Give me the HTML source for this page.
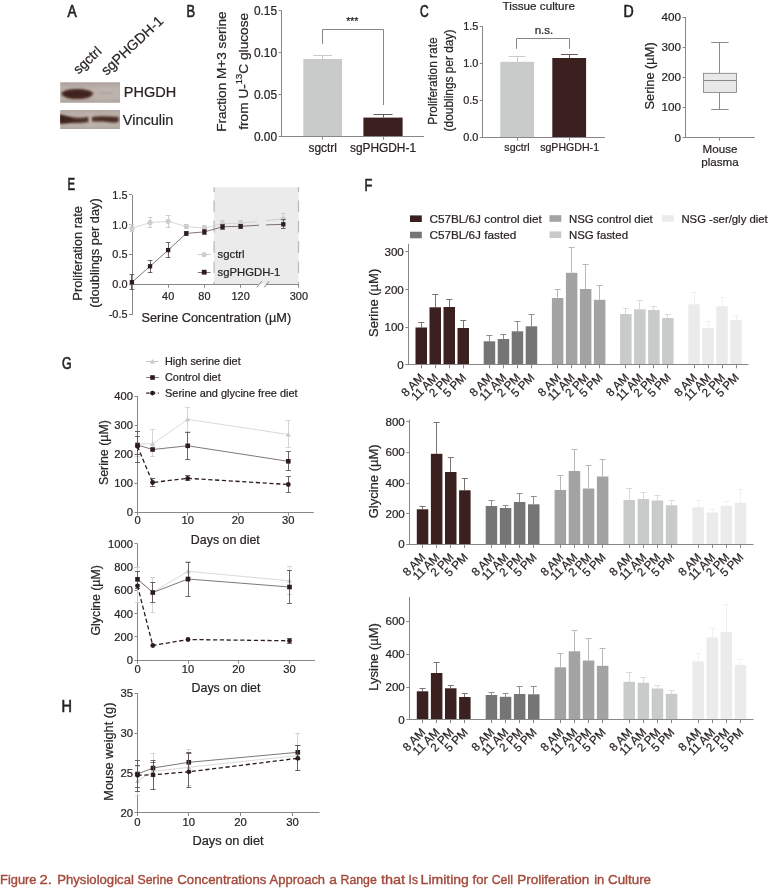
<!DOCTYPE html>
<html lang="en">
<head>
<meta charset="utf-8">
<title>Figure 2. Physiological Serine Concentrations Approach a Range that Is Limiting for Cell Proliferation in Culture</title>
<style>
html,body{margin:0;padding:0;background:#ffffff;}
body{width:768px;height:888px;overflow:hidden;}
svg{display:block;}
svg text{font-family:"Liberation Sans",sans-serif;stroke:#2a2425;stroke-width:0.22px;}
</style>
</head>
<body>
<svg width="768" height="888" viewBox="0 0 768 888">
<defs>
<filter id="b1" x="-30%" y="-80%" width="160%" height="260%"><feGaussianBlur stdDeviation="1.6 1.3"/></filter>
<filter id="b2" x="-30%" y="-80%" width="160%" height="260%"><feGaussianBlur stdDeviation="0.9"/></filter>
<filter id="b4" x="-50%" y="-50%" width="200%" height="200%"><feGaussianBlur stdDeviation="3"/></filter>
<filter id="b3" x="-5%" y="-20%" width="110%" height="140%"><feGaussianBlur stdDeviation="0.5"/></filter>
</defs>
<rect x="0" y="0" width="768" height="888" fill="#ffffff"/>
<text x="0" y="0" font-size="17.2" fill="#231f20" transform="translate(67.4 17.2) scale(0.8000 1)" style="stroke-width:0.62px;vector-effect:non-scaling-stroke">A</text>
<text x="0" y="0" font-size="17.2" fill="#231f20" transform="translate(186.4 17.2) scale(0.7500 1)" style="stroke-width:0.62px;vector-effect:non-scaling-stroke">B</text>
<text x="0" y="0" font-size="16.3" fill="#231f20" transform="translate(419.9 17) scale(0.7350 1)" style="stroke-width:0.62px;vector-effect:non-scaling-stroke">C</text>
<text x="0" y="0" font-size="17.2" fill="#231f20" transform="translate(623.45 17.1) scale(0.8240 1)" style="stroke-width:0.62px;vector-effect:non-scaling-stroke">D</text>
<text x="0" y="0" font-size="17.2" fill="#231f20" transform="translate(67.6 190.3) scale(0.6630 1)" style="stroke-width:0.62px;vector-effect:non-scaling-stroke">E</text>
<text x="0" y="0" font-size="17.2" fill="#231f20" transform="translate(364.6 190.6) scale(0.7440 1)" style="stroke-width:0.62px;vector-effect:non-scaling-stroke">F</text>
<text x="0" y="0" font-size="17.2" fill="#231f20" transform="translate(61.9 369) scale(0.7210 1)" style="stroke-width:0.62px;vector-effect:non-scaling-stroke">G</text>
<text x="0" y="0" font-size="16.5" fill="#231f20" transform="translate(61.4 712.3) scale(0.8800 1)" style="stroke-width:0.62px;vector-effect:non-scaling-stroke">H</text>
<g id="panelA">
<text x="78.5" y="74.8" font-size="13.7" fill="#2a2425" transform="rotate(-43 78.5 74.8)">sgctrl</text>
<text x="106.5" y="76" font-size="14.2" fill="#2a2425" transform="rotate(-43 106.5 76)">sgPHGDH-1</text>
<clipPath id="cb1"><rect x="60.2" y="82.2" width="59.8" height="20.5"/></clipPath>
<clipPath id="cb2"><rect x="60.2" y="110" width="59.8" height="19.1"/></clipPath>
<linearGradient id="bg1" x1="0" y1="0" x2="0" y2="1"><stop offset="0" stop-color="#aca19b"/><stop offset="0.3" stop-color="#bbb0aa"/><stop offset="0.75" stop-color="#bbb1ab"/><stop offset="1" stop-color="#ada29c"/></linearGradient>
<linearGradient id="bg2" x1="0" y1="0" x2="0" y2="1"><stop offset="0" stop-color="#b0a59f"/><stop offset="0.25" stop-color="#bcb1ab"/><stop offset="0.8" stop-color="#bab0aa"/><stop offset="1" stop-color="#aea49e"/></linearGradient>
<g clip-path="url(#cb1)">
<rect x="60" y="82" width="60.2" height="21" fill="url(#bg1)"/>
<ellipse cx="106" cy="93" rx="13" ry="7" fill="#c4bab4" opacity="0.5" filter="url(#b4)"/>
<path d="M60.9,93.5 C63.5,90 69.5,88.9 77.5,88.9 C85.5,88.9 91.3,90.4 93.4,93.6 C91.4,97.6 85.5,99.1 77.2,99.1 C69,99.1 63.8,97.6 60.9,93.5 Z" fill="#4d2e27" filter="url(#b2)"/>
<ellipse cx="77.2" cy="94" rx="13" ry="3.1" fill="#3f241e" filter="url(#b2)"/>
<ellipse cx="105.5" cy="93.1" rx="9" ry="1.2" fill="#a4978f" opacity="0.55" filter="url(#b2)"/>
</g>
<g clip-path="url(#cb2)">
<rect x="60" y="110" width="60.2" height="19.5" fill="url(#bg2)"/>
<ellipse cx="90" cy="120" rx="4" ry="8" fill="#c8beb8" opacity="0.6" filter="url(#b4)"/>
<path d="M58.5,113.8 C62,115.4 70,117.4 78,117.8 C82,117.9 86,117.3 88.3,116.8 L88.4,122.0 C84,123.0 78,123.2 72,123.0 C67,123.0 62,124.2 58.5,123.6 Z" fill="#4b2d26" filter="url(#b2)"/>
<path d="M59,115.2 L72,118.6 L72,121.8 L59,122.6 Z" fill="#3e241e" filter="url(#b1)"/>
<path d="M92.0,116.9 C96,116.1 104,116.0 110,116.4 C114,116.6 117,116.4 118.6,117 L118.8,121.6 C117,123.0 113,122.8 109,122.2 C103,121.6 96,121.8 92.0,121.6 Z" fill="#4d2f28" filter="url(#b2)"/>
</g>
<text x="123.8" y="97.3" font-size="14.5" fill="#2a2425">PHGDH</text>
<text x="122.8" y="124.6" font-size="14.5" fill="#2a2425">Vinculin</text>
</g>
<g id="panelB">
<line x1="281.5" y1="10.4" x2="281.5" y2="136.7" stroke="#878787" stroke-width="1"/>
<line x1="278.6" y1="10.5" x2="281.6" y2="10.5" stroke="#878787" stroke-width="1"/>
<text x="277.1" y="14.68" font-size="11.9" text-anchor="end" fill="#2a2425">0.15</text>
<line x1="278.6" y1="52.5" x2="281.6" y2="52.5" stroke="#878787" stroke-width="1"/>
<text x="277.1" y="56.68" font-size="11.9" text-anchor="end" fill="#2a2425">0.10</text>
<line x1="278.6" y1="94.5" x2="281.6" y2="94.5" stroke="#878787" stroke-width="1"/>
<text x="277.1" y="98.68" font-size="11.9" text-anchor="end" fill="#2a2425">0.05</text>
<line x1="278.6" y1="136.5" x2="281.6" y2="136.5" stroke="#878787" stroke-width="1"/>
<text x="277.1" y="140.58" font-size="11.9" text-anchor="end" fill="#2a2425">0.00</text>
<rect x="303.3" y="59" width="38.8" height="77.3" fill="#c9caca"/>
<line x1="322.5" y1="55" x2="322.5" y2="59" stroke="#c9caca" stroke-width="1"/>
<line x1="313.2" y1="55.5" x2="332.2" y2="55.5" stroke="#c9caca" stroke-width="1"/>
<rect x="363.4" y="117.6" width="39.2" height="18.7" fill="#3a201f"/>
<line x1="383.5" y1="114.6" x2="383.5" y2="117.6" stroke="#6a5a59" stroke-width="1"/>
<line x1="373.5" y1="114.5" x2="392.5" y2="114.5" stroke="#6a5a59" stroke-width="1"/>
<line x1="281.2" y1="136.5" x2="424" y2="136.5" stroke="#878787" stroke-width="1"/>
<line x1="322.5" y1="136.3" x2="322.5" y2="139.7" stroke="#878787" stroke-width="1"/>
<line x1="383.5" y1="136.3" x2="383.5" y2="139.7" stroke="#878787" stroke-width="1"/>
<text x="322.7" y="152" font-size="11.9" text-anchor="middle" fill="#2a2425">sgctrl</text>
<text x="383" y="152" font-size="11.9" text-anchor="middle" fill="#2a2425">sgPHGDH-1</text>
<polyline points="322.5,43.8 322.5,29.5 383.5,29.5 383.5,105" fill="none" stroke="#878787" stroke-width="1"/>
<text x="352.3" y="24.5" font-size="10.5" text-anchor="middle" fill="#2a2425">***</text>
<text x="226" y="71.6" font-size="13.6" text-anchor="middle" fill="#2a2425" transform="rotate(-90 226 71.6)">Fraction M+3 serine</text>
<text x="247.8" y="71.3" font-size="13.7" text-anchor="middle" fill="#2a2425" transform="rotate(-90 247.8 71.3)">from U-<tspan font-size="9.4" dy="-5.4">13</tspan><tspan dy="5.4">C glucose</tspan></text>
</g>
<g id="panelC">
<text x="502.6" y="10.2" font-size="11.7" fill="#2a2425">Tissue culture</text>
<line x1="482.5" y1="26.2" x2="482.5" y2="137.7" stroke="#878787" stroke-width="1"/>
<line x1="479.8" y1="26.5" x2="482.8" y2="26.5" stroke="#878787" stroke-width="1"/>
<text x="478.3" y="30.12" font-size="10.9" text-anchor="end" fill="#2a2425">1.5</text>
<line x1="479.8" y1="63.5" x2="482.8" y2="63.5" stroke="#878787" stroke-width="1"/>
<text x="478.3" y="67.12" font-size="10.9" text-anchor="end" fill="#2a2425">1.0</text>
<line x1="479.8" y1="100.5" x2="482.8" y2="100.5" stroke="#878787" stroke-width="1"/>
<text x="478.3" y="104.22" font-size="10.9" text-anchor="end" fill="#2a2425">0.5</text>
<line x1="479.8" y1="137.5" x2="482.8" y2="137.5" stroke="#878787" stroke-width="1"/>
<text x="478.3" y="141.22" font-size="10.9" text-anchor="end" fill="#2a2425">0.0</text>
<rect x="500.3" y="61.8" width="33.8" height="75.5" fill="#c9caca"/>
<line x1="517.5" y1="56.6" x2="517.5" y2="61.8" stroke="#c9caca" stroke-width="1"/>
<line x1="508.5" y1="56.5" x2="525.5" y2="56.5" stroke="#c9caca" stroke-width="1"/>
<rect x="552.3" y="58" width="33.8" height="79.3" fill="#3a201f"/>
<line x1="569.5" y1="54.6" x2="569.5" y2="58" stroke="#6a5a59" stroke-width="1"/>
<line x1="560.9" y1="54.5" x2="577.9" y2="54.5" stroke="#6a5a59" stroke-width="1"/>
<line x1="482.4" y1="137.5" x2="604.8" y2="137.5" stroke="#878787" stroke-width="1"/>
<line x1="517.5" y1="137.3" x2="517.5" y2="140.7" stroke="#878787" stroke-width="1"/>
<line x1="569.5" y1="137.3" x2="569.5" y2="140.7" stroke="#878787" stroke-width="1"/>
<text x="517" y="151.4" font-size="10.6" text-anchor="middle" fill="#2a2425">sgctrl</text>
<text x="569.6" y="151.4" font-size="10.6" text-anchor="middle" fill="#2a2425">sgPHGDH-1</text>
<polyline points="516.5,48.8 516.5,38.5 569.5,38.5 569.5,48.8" fill="none" stroke="#878787" stroke-width="1"/>
<text x="544" y="34" font-size="11.6" text-anchor="middle" fill="#2a2425">n.s.</text>
<text x="437.3" y="81" font-size="11.9" text-anchor="middle" fill="#2a2425" transform="rotate(-90 437.3 81)">Proliferation rate</text>
<text x="452.6" y="80.5" font-size="11.9" text-anchor="middle" fill="#2a2425" transform="rotate(-90 452.6 80.5)">(doublings per day)</text>
</g>
<g id="panelD">
<line x1="685.5" y1="17" x2="685.5" y2="137.7" stroke="#878787" stroke-width="1"/>
<line x1="682.6" y1="17.5" x2="685.6" y2="17.5" stroke="#878787" stroke-width="1"/>
<text x="681.1" y="21.21" font-size="11.7" text-anchor="end" fill="#2a2425">400</text>
<line x1="682.6" y1="47.5" x2="685.6" y2="47.5" stroke="#878787" stroke-width="1"/>
<text x="681.1" y="51.31" font-size="11.7" text-anchor="end" fill="#2a2425">300</text>
<line x1="682.6" y1="77.5" x2="685.6" y2="77.5" stroke="#878787" stroke-width="1"/>
<text x="681.1" y="81.41" font-size="11.7" text-anchor="end" fill="#2a2425">200</text>
<line x1="682.6" y1="107.5" x2="685.6" y2="107.5" stroke="#878787" stroke-width="1"/>
<text x="681.1" y="111.41" font-size="11.7" text-anchor="end" fill="#2a2425">100</text>
<line x1="682.6" y1="137.5" x2="685.6" y2="137.5" stroke="#878787" stroke-width="1"/>
<text x="681.1" y="141.51" font-size="11.7" text-anchor="end" fill="#2a2425">0</text>
<line x1="685.2" y1="137.5" x2="754.8" y2="137.5" stroke="#878787" stroke-width="1"/>
<line x1="719.5" y1="137.3" x2="719.5" y2="140.7" stroke="#878787" stroke-width="1"/>
<line x1="719.5" y1="42.6" x2="719.5" y2="73.3" stroke="#7d7d7d" stroke-width="0.9"/>
<line x1="719.5" y1="92.5" x2="719.5" y2="109.6" stroke="#7d7d7d" stroke-width="0.9"/>
<line x1="711.2" y1="42.5" x2="728.6" y2="42.5" stroke="#7d7d7d" stroke-width="0.9"/>
<line x1="711.2" y1="109.5" x2="728.6" y2="109.5" stroke="#7d7d7d" stroke-width="0.9"/>
<rect x="703.6" y="73.3" width="32.8" height="19.2" fill="#e8e8e8" stroke="#7d7d7d" stroke-width="0.8"/>
<line x1="703.6" y1="80.5" x2="736.4" y2="80.5" stroke="#7d7d7d" stroke-width="0.9"/>
<text x="654.4" y="75.9" font-size="12.8" text-anchor="middle" fill="#2a2425" transform="rotate(-90 654.4 75.9)">Serine (µM)</text>
<text x="720" y="152.6" font-size="11.6" text-anchor="middle" fill="#2a2425">Mouse</text>
<text x="720" y="165.6" font-size="11.6" text-anchor="middle" fill="#2a2425">plasma</text>
</g>
<g id="panelE">
<rect x="214" y="187.2" width="84.6" height="97.1" fill="#ebebeb"/>
<line x1="214.1" y1="187.2" x2="214.1" y2="284.3" stroke="#bcbcbc" stroke-width="1.3" stroke-dasharray="11.7 8.6" stroke-dashoffset="7"/>
<line x1="298.5" y1="187.2" x2="298.5" y2="284.3" stroke="#bcbcbc" stroke-width="1.3" stroke-dasharray="11.7 8.6" stroke-dashoffset="7"/>
<line x1="132.5" y1="194.9" x2="132.5" y2="314.8" stroke="#878787" stroke-width="1"/>
<line x1="129" y1="194.5" x2="132" y2="194.5" stroke="#878787" stroke-width="1"/>
<text x="127.5" y="198.82" font-size="10.9" text-anchor="end" fill="#2a2425">1.5</text>
<line x1="129" y1="224.5" x2="132" y2="224.5" stroke="#878787" stroke-width="1"/>
<text x="127.5" y="228.52" font-size="10.9" text-anchor="end" fill="#2a2425">1.0</text>
<line x1="129" y1="254.5" x2="132" y2="254.5" stroke="#878787" stroke-width="1"/>
<text x="127.5" y="258.42" font-size="10.9" text-anchor="end" fill="#2a2425">0.5</text>
<line x1="129" y1="284.5" x2="132" y2="284.5" stroke="#878787" stroke-width="1"/>
<text x="127.5" y="288.22" font-size="10.9" text-anchor="end" fill="#2a2425">0.0</text>
<line x1="129" y1="314.5" x2="132" y2="314.5" stroke="#878787" stroke-width="1"/>
<text x="127.5" y="318.32" font-size="10.9" text-anchor="end" fill="#2a2425">-0.5</text>
<line x1="131.6" y1="284.5" x2="258.2" y2="284.5" stroke="#878787" stroke-width="1"/>
<line x1="265.8" y1="284.5" x2="298.9" y2="284.5" stroke="#878787" stroke-width="1"/>
<line x1="256.9" y1="287.3" x2="261.6" y2="281.3" stroke="#878787" stroke-width="1"/>
<line x1="264.3" y1="287.3" x2="269" y2="281.3" stroke="#878787" stroke-width="1"/>
<line x1="131.5" y1="284.3" x2="131.5" y2="289.8" stroke="#878787" stroke-width="1"/>
<line x1="168.5" y1="284.3" x2="168.5" y2="287.7" stroke="#878787" stroke-width="1"/>
<text x="168.15" y="299.9" font-size="10.9" text-anchor="middle" fill="#2a2425">40</text>
<line x1="204.5" y1="284.3" x2="204.5" y2="287.7" stroke="#878787" stroke-width="1"/>
<text x="204.4" y="299.9" font-size="10.9" text-anchor="middle" fill="#2a2425">80</text>
<line x1="240.5" y1="284.3" x2="240.5" y2="287.7" stroke="#878787" stroke-width="1"/>
<text x="240.65" y="299.9" font-size="10.9" text-anchor="middle" fill="#2a2425">120</text>
<line x1="298.5" y1="284.3" x2="298.5" y2="287.7" stroke="#878787" stroke-width="1"/>
<text x="298.9" y="299.9" font-size="10.9" text-anchor="middle" fill="#2a2425">300</text>
<polyline points="131.9,228.3 150.03,222.6 168.15,221.3 186.28,226.5 204.4,228.2 222.53,223.8 240.65,223 257,221.6" fill="none" stroke="#cdcdcd" stroke-width="0.8"/>
<line x1="266" y1="220.6" x2="283.3" y2="218.8" stroke="#cdcdcd" stroke-width="1"/>
<line x1="131.5" y1="224.8" x2="131.5" y2="231.8" stroke="#cdcdcd" stroke-width="1"/>
<line x1="129.6" y1="224.5" x2="134.2" y2="224.5" stroke="#cdcdcd" stroke-width="1"/>
<line x1="129.6" y1="231.5" x2="134.2" y2="231.5" stroke="#cdcdcd" stroke-width="1"/>
<circle cx="131.9" cy="228.3" r="2.6" fill="#cdcdcd"/>
<line x1="150.5" y1="217.8" x2="150.5" y2="227.4" stroke="#cdcdcd" stroke-width="1"/>
<line x1="147.72" y1="217.5" x2="152.33" y2="217.5" stroke="#cdcdcd" stroke-width="1"/>
<line x1="147.72" y1="227.5" x2="152.33" y2="227.5" stroke="#cdcdcd" stroke-width="1"/>
<circle cx="150.03" cy="222.6" r="2.6" fill="#cdcdcd"/>
<line x1="168.5" y1="215.1" x2="168.5" y2="227.5" stroke="#cdcdcd" stroke-width="1"/>
<line x1="165.85" y1="215.5" x2="170.45" y2="215.5" stroke="#cdcdcd" stroke-width="1"/>
<line x1="165.85" y1="227.5" x2="170.45" y2="227.5" stroke="#cdcdcd" stroke-width="1"/>
<circle cx="168.15" cy="221.3" r="2.6" fill="#cdcdcd"/>
<line x1="186.5" y1="224.5" x2="186.5" y2="228.5" stroke="#cdcdcd" stroke-width="1"/>
<line x1="183.97" y1="224.5" x2="188.58" y2="224.5" stroke="#cdcdcd" stroke-width="1"/>
<line x1="183.97" y1="228.5" x2="188.58" y2="228.5" stroke="#cdcdcd" stroke-width="1"/>
<circle cx="186.28" cy="226.5" r="2.6" fill="#cdcdcd"/>
<line x1="204.5" y1="225.2" x2="204.5" y2="231.2" stroke="#cdcdcd" stroke-width="1"/>
<line x1="202.1" y1="225.5" x2="206.7" y2="225.5" stroke="#cdcdcd" stroke-width="1"/>
<line x1="202.1" y1="231.5" x2="206.7" y2="231.5" stroke="#cdcdcd" stroke-width="1"/>
<circle cx="204.4" cy="228.2" r="2.6" fill="#cdcdcd"/>
<line x1="222.5" y1="220.8" x2="222.5" y2="226.8" stroke="#cdcdcd" stroke-width="1"/>
<line x1="220.22" y1="220.5" x2="224.83" y2="220.5" stroke="#cdcdcd" stroke-width="1"/>
<line x1="220.22" y1="226.5" x2="224.83" y2="226.5" stroke="#cdcdcd" stroke-width="1"/>
<circle cx="222.53" cy="223.8" r="2.6" fill="#cdcdcd"/>
<line x1="240.5" y1="220.5" x2="240.5" y2="225.5" stroke="#cdcdcd" stroke-width="1"/>
<line x1="238.35" y1="220.5" x2="242.95" y2="220.5" stroke="#cdcdcd" stroke-width="1"/>
<line x1="238.35" y1="225.5" x2="242.95" y2="225.5" stroke="#cdcdcd" stroke-width="1"/>
<circle cx="240.65" cy="223" r="2.6" fill="#cdcdcd"/>
<line x1="283.5" y1="213.8" x2="283.5" y2="223.8" stroke="#cdcdcd" stroke-width="1"/>
<line x1="281" y1="213.5" x2="285.6" y2="213.5" stroke="#cdcdcd" stroke-width="1"/>
<line x1="281" y1="223.5" x2="285.6" y2="223.5" stroke="#cdcdcd" stroke-width="1"/>
<circle cx="283.3" cy="218.8" r="2.6" fill="#cdcdcd"/>
<polyline points="131.9,282.2 150.03,266.3 168.15,250.1 186.28,233.4 204.4,231.9 222.53,226.8 240.65,226.3 259,225.2" fill="none" stroke="#5e5454" stroke-width="0.8"/>
<line x1="266" y1="224.9" x2="283.3" y2="224.3" stroke="#5e5454" stroke-width="0.8"/>
<line x1="131.5" y1="274.9" x2="131.5" y2="289.5" stroke="#5e5454" stroke-width="0.9"/>
<line x1="129.6" y1="274.5" x2="134.2" y2="274.5" stroke="#5e5454" stroke-width="0.9"/>
<line x1="129.6" y1="289.5" x2="134.2" y2="289.5" stroke="#5e5454" stroke-width="0.9"/>
<rect x="129.75" y="280.05" width="4.3" height="4.3" fill="#2c1d1c"/>
<line x1="150.5" y1="260.1" x2="150.5" y2="272.5" stroke="#5e5454" stroke-width="0.9"/>
<line x1="147.72" y1="260.5" x2="152.33" y2="260.5" stroke="#5e5454" stroke-width="0.9"/>
<line x1="147.72" y1="272.5" x2="152.33" y2="272.5" stroke="#5e5454" stroke-width="0.9"/>
<rect x="147.88" y="264.15" width="4.3" height="4.3" fill="#2c1d1c"/>
<line x1="168.5" y1="242.7" x2="168.5" y2="257.5" stroke="#5e5454" stroke-width="0.9"/>
<line x1="165.85" y1="242.5" x2="170.45" y2="242.5" stroke="#5e5454" stroke-width="0.9"/>
<line x1="165.85" y1="257.5" x2="170.45" y2="257.5" stroke="#5e5454" stroke-width="0.9"/>
<rect x="166" y="247.95" width="4.3" height="4.3" fill="#2c1d1c"/>
<line x1="186.5" y1="231.4" x2="186.5" y2="235.4" stroke="#5e5454" stroke-width="0.9"/>
<line x1="183.97" y1="231.5" x2="188.58" y2="231.5" stroke="#5e5454" stroke-width="0.9"/>
<line x1="183.97" y1="235.5" x2="188.58" y2="235.5" stroke="#5e5454" stroke-width="0.9"/>
<rect x="184.12" y="231.25" width="4.3" height="4.3" fill="#2c1d1c"/>
<line x1="204.5" y1="229.7" x2="204.5" y2="234.1" stroke="#5e5454" stroke-width="0.9"/>
<line x1="202.1" y1="229.5" x2="206.7" y2="229.5" stroke="#5e5454" stroke-width="0.9"/>
<line x1="202.1" y1="234.5" x2="206.7" y2="234.5" stroke="#5e5454" stroke-width="0.9"/>
<rect x="202.25" y="229.75" width="4.3" height="4.3" fill="#2c1d1c"/>
<line x1="222.5" y1="224.6" x2="222.5" y2="229" stroke="#5e5454" stroke-width="0.9"/>
<line x1="220.22" y1="224.5" x2="224.83" y2="224.5" stroke="#5e5454" stroke-width="0.9"/>
<line x1="220.22" y1="229.5" x2="224.83" y2="229.5" stroke="#5e5454" stroke-width="0.9"/>
<rect x="220.38" y="224.65" width="4.3" height="4.3" fill="#2c1d1c"/>
<line x1="240.5" y1="224.1" x2="240.5" y2="228.5" stroke="#5e5454" stroke-width="0.9"/>
<line x1="238.35" y1="224.5" x2="242.95" y2="224.5" stroke="#5e5454" stroke-width="0.9"/>
<line x1="238.35" y1="228.5" x2="242.95" y2="228.5" stroke="#5e5454" stroke-width="0.9"/>
<rect x="238.5" y="224.15" width="4.3" height="4.3" fill="#2c1d1c"/>
<line x1="283.5" y1="219.7" x2="283.5" y2="228.9" stroke="#5e5454" stroke-width="0.9"/>
<line x1="281" y1="219.5" x2="285.6" y2="219.5" stroke="#5e5454" stroke-width="0.9"/>
<line x1="281" y1="228.5" x2="285.6" y2="228.5" stroke="#5e5454" stroke-width="0.9"/>
<rect x="281.15" y="222.15" width="4.3" height="4.3" fill="#2c1d1c"/>
<line x1="197.8" y1="254.5" x2="210.6" y2="254.5" stroke="#cdcdcd" stroke-width="1"/>
<circle cx="204.2" cy="254.6" r="2.6" fill="#cdcdcd"/>
<text x="217.6" y="258.3" font-size="11.3" fill="#2a2425">sgctrl</text>
<line x1="197.8" y1="272.5" x2="210.6" y2="272.5" stroke="#5e5454" stroke-width="0.8"/>
<rect x="201.8" y="269.8" width="4.8" height="4.8" fill="#2c1d1c"/>
<text x="217.6" y="276.3" font-size="11.3" fill="#2a2425">sgPHGDH-1</text>
<text x="216.3" y="321.8" font-size="12.75" text-anchor="middle" fill="#2a2425">Serine Concentration (µM)</text>
<text x="82.3" y="253.4" font-size="12.9" text-anchor="middle" fill="#2a2425" transform="rotate(-90 82.3 253.4)">Proliferation rate</text>
<text x="98.6" y="253" font-size="12.8" text-anchor="middle" fill="#2a2425" transform="rotate(-90 98.6 253)">(doublings per day)</text>
</g>
<g id="panelF">
<rect x="410" y="215.4" width="11.8" height="6.6" fill="#3a201f"/>
<text x="429.4" y="222.7" font-size="11.75" fill="#2a2425">C57BL/6J control diet</text>
<rect x="410" y="231.7" width="11.8" height="6.6" fill="#757575"/>
<text x="429.4" y="239" font-size="11.75" fill="#2a2425">C57BL/6J fasted</text>
<rect x="549.5" y="215.2" width="11.8" height="6.6" fill="#a3a3a3"/>
<text x="568.9" y="222.5" font-size="11.45" fill="#2a2425">NSG control diet</text>
<rect x="549.5" y="231.4" width="11.8" height="6.6" fill="#c9caca"/>
<text x="568.9" y="238.7" font-size="11.45" fill="#2a2425">NSG fasted</text>
<rect x="662" y="215.2" width="11.8" height="6.6" fill="#ebebeb"/>
<text x="681.4" y="222.5" font-size="11.35" fill="#2a2425">NSG -ser/gly diet</text>
<line x1="421.5" y1="322" x2="421.5" y2="327.5" stroke="#7c7274" stroke-width="1"/>
<line x1="418.25" y1="322.5" x2="424.25" y2="322.5" stroke="#7c7274" stroke-width="1"/>
<rect x="415.5" y="327.5" width="11.5" height="37.2" fill="#3a201f"/>
<line x1="435.5" y1="294.3" x2="435.5" y2="307.3" stroke="#7c7274" stroke-width="1"/>
<line x1="432.25" y1="294.5" x2="438.25" y2="294.5" stroke="#7c7274" stroke-width="1"/>
<rect x="429.5" y="307.3" width="11.5" height="57.4" fill="#3a201f"/>
<line x1="449.5" y1="299.3" x2="449.5" y2="307" stroke="#7c7274" stroke-width="1"/>
<line x1="446.25" y1="299.5" x2="452.25" y2="299.5" stroke="#7c7274" stroke-width="1"/>
<rect x="443.5" y="307" width="11.5" height="57.7" fill="#3a201f"/>
<line x1="463.5" y1="320.3" x2="463.5" y2="328" stroke="#7c7274" stroke-width="1"/>
<line x1="460.25" y1="320.5" x2="466.25" y2="320.5" stroke="#7c7274" stroke-width="1"/>
<rect x="457.5" y="328" width="11.5" height="36.7" fill="#3a201f"/>
<line x1="489.5" y1="335.3" x2="489.5" y2="341.3" stroke="#8f8f8f" stroke-width="1"/>
<line x1="486.45" y1="335.5" x2="492.45" y2="335.5" stroke="#8f8f8f" stroke-width="1"/>
<rect x="483.7" y="341.3" width="11.5" height="23.4" fill="#757575"/>
<line x1="503.5" y1="334.3" x2="503.5" y2="339" stroke="#8f8f8f" stroke-width="1"/>
<line x1="500.45" y1="334.5" x2="506.45" y2="334.5" stroke="#8f8f8f" stroke-width="1"/>
<rect x="497.7" y="339" width="11.5" height="25.7" fill="#757575"/>
<line x1="517.5" y1="321.5" x2="517.5" y2="331.3" stroke="#8f8f8f" stroke-width="1"/>
<line x1="514.45" y1="321.5" x2="520.45" y2="321.5" stroke="#8f8f8f" stroke-width="1"/>
<rect x="511.7" y="331.3" width="11.5" height="33.4" fill="#757575"/>
<line x1="531.5" y1="314.5" x2="531.5" y2="326.3" stroke="#8f8f8f" stroke-width="1"/>
<line x1="528.45" y1="314.5" x2="534.45" y2="314.5" stroke="#8f8f8f" stroke-width="1"/>
<rect x="525.7" y="326.3" width="11.5" height="38.4" fill="#757575"/>
<line x1="557.5" y1="289.3" x2="557.5" y2="298" stroke="#b8b8b8" stroke-width="1"/>
<line x1="554.65" y1="289.5" x2="560.65" y2="289.5" stroke="#b8b8b8" stroke-width="1"/>
<rect x="551.9" y="298" width="11.5" height="66.7" fill="#a3a3a3"/>
<line x1="571.5" y1="247.3" x2="571.5" y2="272.8" stroke="#b8b8b8" stroke-width="1"/>
<line x1="568.65" y1="247.5" x2="574.65" y2="247.5" stroke="#b8b8b8" stroke-width="1"/>
<rect x="565.9" y="272.8" width="11.5" height="91.9" fill="#a3a3a3"/>
<line x1="585.5" y1="264.3" x2="585.5" y2="289" stroke="#b8b8b8" stroke-width="1"/>
<line x1="582.65" y1="264.5" x2="588.65" y2="264.5" stroke="#b8b8b8" stroke-width="1"/>
<rect x="579.9" y="289" width="11.5" height="75.7" fill="#a3a3a3"/>
<line x1="599.5" y1="285.5" x2="599.5" y2="299.8" stroke="#b8b8b8" stroke-width="1"/>
<line x1="596.65" y1="285.5" x2="602.65" y2="285.5" stroke="#b8b8b8" stroke-width="1"/>
<rect x="593.9" y="299.8" width="11.5" height="64.9" fill="#a3a3a3"/>
<line x1="625.5" y1="308.3" x2="625.5" y2="314" stroke="#dbdbdb" stroke-width="1"/>
<line x1="622.85" y1="308.5" x2="628.85" y2="308.5" stroke="#dbdbdb" stroke-width="1"/>
<rect x="620.1" y="314" width="11.5" height="50.7" fill="#c9caca"/>
<line x1="639.5" y1="300" x2="639.5" y2="309.3" stroke="#dbdbdb" stroke-width="1"/>
<line x1="636.85" y1="300.5" x2="642.85" y2="300.5" stroke="#dbdbdb" stroke-width="1"/>
<rect x="634.1" y="309.3" width="11.5" height="55.4" fill="#c9caca"/>
<line x1="653.5" y1="306" x2="653.5" y2="310" stroke="#dbdbdb" stroke-width="1"/>
<line x1="650.85" y1="306.5" x2="656.85" y2="306.5" stroke="#dbdbdb" stroke-width="1"/>
<rect x="648.1" y="310" width="11.5" height="54.7" fill="#c9caca"/>
<line x1="667.5" y1="314.3" x2="667.5" y2="318" stroke="#dbdbdb" stroke-width="1"/>
<line x1="664.85" y1="314.5" x2="670.85" y2="314.5" stroke="#dbdbdb" stroke-width="1"/>
<rect x="662.1" y="318" width="11.5" height="46.7" fill="#c9caca"/>
<line x1="694.5" y1="292.5" x2="694.5" y2="304.3" stroke="#f1f1f1" stroke-width="1"/>
<line x1="691.05" y1="292.5" x2="697.05" y2="292.5" stroke="#f1f1f1" stroke-width="1"/>
<rect x="688.3" y="304.3" width="11.5" height="60.4" fill="#ebebeb"/>
<line x1="708.5" y1="321.8" x2="708.5" y2="328" stroke="#f1f1f1" stroke-width="1"/>
<line x1="705.05" y1="321.5" x2="711.05" y2="321.5" stroke="#f1f1f1" stroke-width="1"/>
<rect x="702.3" y="328" width="11.5" height="36.7" fill="#ebebeb"/>
<line x1="722.5" y1="297.5" x2="722.5" y2="306.3" stroke="#f1f1f1" stroke-width="1"/>
<line x1="719.05" y1="297.5" x2="725.05" y2="297.5" stroke="#f1f1f1" stroke-width="1"/>
<rect x="716.3" y="306.3" width="11.5" height="58.4" fill="#ebebeb"/>
<line x1="736.5" y1="315.8" x2="736.5" y2="320" stroke="#f1f1f1" stroke-width="1"/>
<line x1="733.05" y1="315.5" x2="739.05" y2="315.5" stroke="#f1f1f1" stroke-width="1"/>
<rect x="730.3" y="320" width="11.5" height="44.7" fill="#ebebeb"/>
<line x1="408.5" y1="243.8" x2="408.5" y2="365.1" stroke="#878787" stroke-width="1"/>
<line x1="405.3" y1="251.5" x2="408.3" y2="251.5" stroke="#878787" stroke-width="1"/>
<text x="403.8" y="255.68" font-size="11.6" text-anchor="end" fill="#2a2425">300</text>
<line x1="405.3" y1="289.5" x2="408.3" y2="289.5" stroke="#878787" stroke-width="1"/>
<text x="403.8" y="293.58" font-size="11.6" text-anchor="end" fill="#2a2425">200</text>
<line x1="405.3" y1="327.5" x2="408.3" y2="327.5" stroke="#878787" stroke-width="1"/>
<text x="403.8" y="331.38" font-size="11.6" text-anchor="end" fill="#2a2425">100</text>
<line x1="405.3" y1="364.5" x2="408.3" y2="364.5" stroke="#878787" stroke-width="1"/>
<text x="403.8" y="368.88" font-size="11.6" text-anchor="end" fill="#2a2425">0</text>
<line x1="407.9" y1="364.5" x2="748.5" y2="364.5" stroke="#878787" stroke-width="1"/>
<line x1="421.5" y1="364.7" x2="421.5" y2="368.3" stroke="#878787" stroke-width="1"/>
<text x="424.95" y="378.4" font-size="11.7" text-anchor="end" fill="#2a2425" transform="rotate(-45 424.95 378.4)">8 AM</text>
<line x1="435.5" y1="364.7" x2="435.5" y2="368.3" stroke="#878787" stroke-width="1"/>
<text x="438.95" y="378.4" font-size="11.7" text-anchor="end" fill="#2a2425" transform="rotate(-45 438.95 378.4)">11 AM</text>
<line x1="449.5" y1="364.7" x2="449.5" y2="368.3" stroke="#878787" stroke-width="1"/>
<text x="452.95" y="378.4" font-size="11.7" text-anchor="end" fill="#2a2425" transform="rotate(-45 452.95 378.4)">2 PM</text>
<line x1="463.5" y1="364.7" x2="463.5" y2="368.3" stroke="#878787" stroke-width="1"/>
<text x="466.95" y="378.4" font-size="11.7" text-anchor="end" fill="#2a2425" transform="rotate(-45 466.95 378.4)">5 PM</text>
<line x1="489.5" y1="364.7" x2="489.5" y2="368.3" stroke="#878787" stroke-width="1"/>
<text x="493.15" y="378.4" font-size="11.7" text-anchor="end" fill="#2a2425" transform="rotate(-45 493.15 378.4)">8 AM</text>
<line x1="503.5" y1="364.7" x2="503.5" y2="368.3" stroke="#878787" stroke-width="1"/>
<text x="507.15" y="378.4" font-size="11.7" text-anchor="end" fill="#2a2425" transform="rotate(-45 507.15 378.4)">11 AM</text>
<line x1="517.5" y1="364.7" x2="517.5" y2="368.3" stroke="#878787" stroke-width="1"/>
<text x="521.15" y="378.4" font-size="11.7" text-anchor="end" fill="#2a2425" transform="rotate(-45 521.15 378.4)">2 PM</text>
<line x1="531.5" y1="364.7" x2="531.5" y2="368.3" stroke="#878787" stroke-width="1"/>
<text x="535.15" y="378.4" font-size="11.7" text-anchor="end" fill="#2a2425" transform="rotate(-45 535.15 378.4)">5 PM</text>
<line x1="557.5" y1="364.7" x2="557.5" y2="368.3" stroke="#878787" stroke-width="1"/>
<text x="561.35" y="378.4" font-size="11.7" text-anchor="end" fill="#2a2425" transform="rotate(-45 561.35 378.4)">8 AM</text>
<line x1="571.5" y1="364.7" x2="571.5" y2="368.3" stroke="#878787" stroke-width="1"/>
<text x="575.35" y="378.4" font-size="11.7" text-anchor="end" fill="#2a2425" transform="rotate(-45 575.35 378.4)">11 AM</text>
<line x1="585.5" y1="364.7" x2="585.5" y2="368.3" stroke="#878787" stroke-width="1"/>
<text x="589.35" y="378.4" font-size="11.7" text-anchor="end" fill="#2a2425" transform="rotate(-45 589.35 378.4)">2 PM</text>
<line x1="599.5" y1="364.7" x2="599.5" y2="368.3" stroke="#878787" stroke-width="1"/>
<text x="603.35" y="378.4" font-size="11.7" text-anchor="end" fill="#2a2425" transform="rotate(-45 603.35 378.4)">5 PM</text>
<line x1="625.5" y1="364.7" x2="625.5" y2="368.3" stroke="#878787" stroke-width="1"/>
<text x="629.55" y="378.4" font-size="11.7" text-anchor="end" fill="#2a2425" transform="rotate(-45 629.55 378.4)">8 AM</text>
<line x1="639.5" y1="364.7" x2="639.5" y2="368.3" stroke="#878787" stroke-width="1"/>
<text x="643.55" y="378.4" font-size="11.7" text-anchor="end" fill="#2a2425" transform="rotate(-45 643.55 378.4)">11 AM</text>
<line x1="653.5" y1="364.7" x2="653.5" y2="368.3" stroke="#878787" stroke-width="1"/>
<text x="657.55" y="378.4" font-size="11.7" text-anchor="end" fill="#2a2425" transform="rotate(-45 657.55 378.4)">2 PM</text>
<line x1="667.5" y1="364.7" x2="667.5" y2="368.3" stroke="#878787" stroke-width="1"/>
<text x="671.55" y="378.4" font-size="11.7" text-anchor="end" fill="#2a2425" transform="rotate(-45 671.55 378.4)">5 PM</text>
<line x1="694.5" y1="364.7" x2="694.5" y2="368.3" stroke="#878787" stroke-width="1"/>
<text x="697.75" y="378.4" font-size="11.7" text-anchor="end" fill="#2a2425" transform="rotate(-45 697.75 378.4)">8 AM</text>
<line x1="708.5" y1="364.7" x2="708.5" y2="368.3" stroke="#878787" stroke-width="1"/>
<text x="711.75" y="378.4" font-size="11.7" text-anchor="end" fill="#2a2425" transform="rotate(-45 711.75 378.4)">11 AM</text>
<line x1="722.5" y1="364.7" x2="722.5" y2="368.3" stroke="#878787" stroke-width="1"/>
<text x="725.75" y="378.4" font-size="11.7" text-anchor="end" fill="#2a2425" transform="rotate(-45 725.75 378.4)">2 PM</text>
<line x1="736.5" y1="364.7" x2="736.5" y2="368.3" stroke="#878787" stroke-width="1"/>
<text x="739.75" y="378.4" font-size="11.7" text-anchor="end" fill="#2a2425" transform="rotate(-45 739.75 378.4)">5 PM</text>
<text x="377.6" y="302.8" font-size="13" text-anchor="middle" fill="#2a2425" transform="rotate(-90 377.6 302.8)">Serine (µM)</text>
<line x1="422.5" y1="506.5" x2="422.5" y2="509.3" stroke="#7c7274" stroke-width="1"/>
<line x1="419.55" y1="506.5" x2="425.55" y2="506.5" stroke="#7c7274" stroke-width="1"/>
<rect x="416.8" y="509.3" width="11.5" height="35" fill="#3a201f"/>
<line x1="436.5" y1="422.3" x2="436.5" y2="453.8" stroke="#7c7274" stroke-width="1"/>
<line x1="433.65" y1="422.5" x2="439.65" y2="422.5" stroke="#7c7274" stroke-width="1"/>
<rect x="430.9" y="453.8" width="11.5" height="90.5" fill="#3a201f"/>
<line x1="450.5" y1="457.5" x2="450.5" y2="472" stroke="#7c7274" stroke-width="1"/>
<line x1="447.75" y1="457.5" x2="453.75" y2="457.5" stroke="#7c7274" stroke-width="1"/>
<rect x="445" y="472" width="11.5" height="72.3" fill="#3a201f"/>
<line x1="464.5" y1="478.3" x2="464.5" y2="490.3" stroke="#7c7274" stroke-width="1"/>
<line x1="461.85" y1="478.5" x2="467.85" y2="478.5" stroke="#7c7274" stroke-width="1"/>
<rect x="459.1" y="490.3" width="11.5" height="54" fill="#3a201f"/>
<line x1="491.5" y1="500.3" x2="491.5" y2="506" stroke="#8f8f8f" stroke-width="1"/>
<line x1="488.45" y1="500.5" x2="494.45" y2="500.5" stroke="#8f8f8f" stroke-width="1"/>
<rect x="485.7" y="506" width="11.5" height="38.3" fill="#757575"/>
<line x1="505.5" y1="505.3" x2="505.5" y2="508" stroke="#8f8f8f" stroke-width="1"/>
<line x1="502.55" y1="505.5" x2="508.55" y2="505.5" stroke="#8f8f8f" stroke-width="1"/>
<rect x="499.8" y="508" width="11.5" height="36.3" fill="#757575"/>
<line x1="519.5" y1="493.3" x2="519.5" y2="502" stroke="#8f8f8f" stroke-width="1"/>
<line x1="516.65" y1="493.5" x2="522.65" y2="493.5" stroke="#8f8f8f" stroke-width="1"/>
<rect x="513.9" y="502" width="11.5" height="42.3" fill="#757575"/>
<line x1="533.5" y1="496.3" x2="533.5" y2="504.3" stroke="#8f8f8f" stroke-width="1"/>
<line x1="530.75" y1="496.5" x2="536.75" y2="496.5" stroke="#8f8f8f" stroke-width="1"/>
<rect x="528" y="504.3" width="11.5" height="40" fill="#757575"/>
<line x1="560.5" y1="475.5" x2="560.5" y2="490" stroke="#b8b8b8" stroke-width="1"/>
<line x1="557.35" y1="475.5" x2="563.35" y2="475.5" stroke="#b8b8b8" stroke-width="1"/>
<rect x="554.6" y="490" width="11.5" height="54.3" fill="#a3a3a3"/>
<line x1="574.5" y1="449.5" x2="574.5" y2="471" stroke="#b8b8b8" stroke-width="1"/>
<line x1="571.45" y1="449.5" x2="577.45" y2="449.5" stroke="#b8b8b8" stroke-width="1"/>
<rect x="568.7" y="471" width="11.5" height="73.3" fill="#a3a3a3"/>
<line x1="588.5" y1="465.3" x2="588.5" y2="488.5" stroke="#b8b8b8" stroke-width="1"/>
<line x1="585.55" y1="465.5" x2="591.55" y2="465.5" stroke="#b8b8b8" stroke-width="1"/>
<rect x="582.8" y="488.5" width="11.5" height="55.8" fill="#a3a3a3"/>
<line x1="602.5" y1="459.3" x2="602.5" y2="476.5" stroke="#b8b8b8" stroke-width="1"/>
<line x1="599.65" y1="459.5" x2="605.65" y2="459.5" stroke="#b8b8b8" stroke-width="1"/>
<rect x="596.9" y="476.5" width="11.5" height="67.8" fill="#a3a3a3"/>
<line x1="629.5" y1="488.8" x2="629.5" y2="500" stroke="#dbdbdb" stroke-width="1"/>
<line x1="626.25" y1="488.5" x2="632.25" y2="488.5" stroke="#dbdbdb" stroke-width="1"/>
<rect x="623.5" y="500" width="11.5" height="44.3" fill="#c9caca"/>
<line x1="643.5" y1="492.3" x2="643.5" y2="499" stroke="#dbdbdb" stroke-width="1"/>
<line x1="640.35" y1="492.5" x2="646.35" y2="492.5" stroke="#dbdbdb" stroke-width="1"/>
<rect x="637.6" y="499" width="11.5" height="45.3" fill="#c9caca"/>
<line x1="657.5" y1="495.5" x2="657.5" y2="500.5" stroke="#dbdbdb" stroke-width="1"/>
<line x1="654.45" y1="495.5" x2="660.45" y2="495.5" stroke="#dbdbdb" stroke-width="1"/>
<rect x="651.7" y="500.5" width="11.5" height="43.8" fill="#c9caca"/>
<line x1="671.5" y1="500.3" x2="671.5" y2="505.3" stroke="#dbdbdb" stroke-width="1"/>
<line x1="668.55" y1="500.5" x2="674.55" y2="500.5" stroke="#dbdbdb" stroke-width="1"/>
<rect x="665.8" y="505.3" width="11.5" height="39" fill="#c9caca"/>
<line x1="698.5" y1="500.5" x2="698.5" y2="507.3" stroke="#f1f1f1" stroke-width="1"/>
<line x1="695.15" y1="500.5" x2="701.15" y2="500.5" stroke="#f1f1f1" stroke-width="1"/>
<rect x="692.4" y="507.3" width="11.5" height="37" fill="#ebebeb"/>
<line x1="712.5" y1="509.5" x2="712.5" y2="512.5" stroke="#f1f1f1" stroke-width="1"/>
<line x1="709.25" y1="509.5" x2="715.25" y2="509.5" stroke="#f1f1f1" stroke-width="1"/>
<rect x="706.5" y="512.5" width="11.5" height="31.8" fill="#ebebeb"/>
<line x1="726.5" y1="501.8" x2="726.5" y2="505.8" stroke="#f1f1f1" stroke-width="1"/>
<line x1="723.35" y1="501.5" x2="729.35" y2="501.5" stroke="#f1f1f1" stroke-width="1"/>
<rect x="720.6" y="505.8" width="11.5" height="38.5" fill="#ebebeb"/>
<line x1="740.5" y1="489.3" x2="740.5" y2="502.8" stroke="#f1f1f1" stroke-width="1"/>
<line x1="737.45" y1="489.5" x2="743.45" y2="489.5" stroke="#f1f1f1" stroke-width="1"/>
<rect x="734.7" y="502.8" width="11.5" height="41.5" fill="#ebebeb"/>
<line x1="409.5" y1="419.5" x2="409.5" y2="544.7" stroke="#878787" stroke-width="1"/>
<line x1="406.3" y1="421.5" x2="409.3" y2="421.5" stroke="#878787" stroke-width="1"/>
<text x="404.8" y="425.98" font-size="11.6" text-anchor="end" fill="#2a2425">800</text>
<line x1="406.3" y1="452.5" x2="409.3" y2="452.5" stroke="#878787" stroke-width="1"/>
<text x="404.8" y="456.48" font-size="11.6" text-anchor="end" fill="#2a2425">600</text>
<line x1="406.3" y1="483.5" x2="409.3" y2="483.5" stroke="#878787" stroke-width="1"/>
<text x="404.8" y="487.18" font-size="11.6" text-anchor="end" fill="#2a2425">400</text>
<line x1="406.3" y1="513.5" x2="409.3" y2="513.5" stroke="#878787" stroke-width="1"/>
<text x="404.8" y="517.78" font-size="11.6" text-anchor="end" fill="#2a2425">200</text>
<line x1="406.3" y1="544.5" x2="409.3" y2="544.5" stroke="#878787" stroke-width="1"/>
<text x="404.8" y="548.48" font-size="11.6" text-anchor="end" fill="#2a2425">0</text>
<line x1="408.9" y1="544.5" x2="753.5" y2="544.5" stroke="#878787" stroke-width="1"/>
<line x1="422.5" y1="544.3" x2="422.5" y2="547.9" stroke="#878787" stroke-width="1"/>
<text x="426.25" y="558" font-size="11.7" text-anchor="end" fill="#2a2425" transform="rotate(-45 426.25 558)">8 AM</text>
<line x1="436.5" y1="544.3" x2="436.5" y2="547.9" stroke="#878787" stroke-width="1"/>
<text x="440.35" y="558" font-size="11.7" text-anchor="end" fill="#2a2425" transform="rotate(-45 440.35 558)">11 AM</text>
<line x1="450.5" y1="544.3" x2="450.5" y2="547.9" stroke="#878787" stroke-width="1"/>
<text x="454.45" y="558" font-size="11.7" text-anchor="end" fill="#2a2425" transform="rotate(-45 454.45 558)">2 PM</text>
<line x1="464.5" y1="544.3" x2="464.5" y2="547.9" stroke="#878787" stroke-width="1"/>
<text x="468.55" y="558" font-size="11.7" text-anchor="end" fill="#2a2425" transform="rotate(-45 468.55 558)">5 PM</text>
<line x1="491.5" y1="544.3" x2="491.5" y2="547.9" stroke="#878787" stroke-width="1"/>
<text x="495.15" y="558" font-size="11.7" text-anchor="end" fill="#2a2425" transform="rotate(-45 495.15 558)">8 AM</text>
<line x1="505.5" y1="544.3" x2="505.5" y2="547.9" stroke="#878787" stroke-width="1"/>
<text x="509.25" y="558" font-size="11.7" text-anchor="end" fill="#2a2425" transform="rotate(-45 509.25 558)">11 AM</text>
<line x1="519.5" y1="544.3" x2="519.5" y2="547.9" stroke="#878787" stroke-width="1"/>
<text x="523.35" y="558" font-size="11.7" text-anchor="end" fill="#2a2425" transform="rotate(-45 523.35 558)">2 PM</text>
<line x1="533.5" y1="544.3" x2="533.5" y2="547.9" stroke="#878787" stroke-width="1"/>
<text x="537.45" y="558" font-size="11.7" text-anchor="end" fill="#2a2425" transform="rotate(-45 537.45 558)">5 PM</text>
<line x1="560.5" y1="544.3" x2="560.5" y2="547.9" stroke="#878787" stroke-width="1"/>
<text x="564.05" y="558" font-size="11.7" text-anchor="end" fill="#2a2425" transform="rotate(-45 564.05 558)">8 AM</text>
<line x1="574.5" y1="544.3" x2="574.5" y2="547.9" stroke="#878787" stroke-width="1"/>
<text x="578.15" y="558" font-size="11.7" text-anchor="end" fill="#2a2425" transform="rotate(-45 578.15 558)">11 AM</text>
<line x1="588.5" y1="544.3" x2="588.5" y2="547.9" stroke="#878787" stroke-width="1"/>
<text x="592.25" y="558" font-size="11.7" text-anchor="end" fill="#2a2425" transform="rotate(-45 592.25 558)">2 PM</text>
<line x1="602.5" y1="544.3" x2="602.5" y2="547.9" stroke="#878787" stroke-width="1"/>
<text x="606.35" y="558" font-size="11.7" text-anchor="end" fill="#2a2425" transform="rotate(-45 606.35 558)">5 PM</text>
<line x1="629.5" y1="544.3" x2="629.5" y2="547.9" stroke="#878787" stroke-width="1"/>
<text x="632.95" y="558" font-size="11.7" text-anchor="end" fill="#2a2425" transform="rotate(-45 632.95 558)">8 AM</text>
<line x1="643.5" y1="544.3" x2="643.5" y2="547.9" stroke="#878787" stroke-width="1"/>
<text x="647.05" y="558" font-size="11.7" text-anchor="end" fill="#2a2425" transform="rotate(-45 647.05 558)">11 AM</text>
<line x1="657.5" y1="544.3" x2="657.5" y2="547.9" stroke="#878787" stroke-width="1"/>
<text x="661.15" y="558" font-size="11.7" text-anchor="end" fill="#2a2425" transform="rotate(-45 661.15 558)">2 PM</text>
<line x1="671.5" y1="544.3" x2="671.5" y2="547.9" stroke="#878787" stroke-width="1"/>
<text x="675.25" y="558" font-size="11.7" text-anchor="end" fill="#2a2425" transform="rotate(-45 675.25 558)">5 PM</text>
<line x1="698.5" y1="544.3" x2="698.5" y2="547.9" stroke="#878787" stroke-width="1"/>
<text x="701.85" y="558" font-size="11.7" text-anchor="end" fill="#2a2425" transform="rotate(-45 701.85 558)">8 AM</text>
<line x1="712.5" y1="544.3" x2="712.5" y2="547.9" stroke="#878787" stroke-width="1"/>
<text x="715.95" y="558" font-size="11.7" text-anchor="end" fill="#2a2425" transform="rotate(-45 715.95 558)">11 AM</text>
<line x1="726.5" y1="544.3" x2="726.5" y2="547.9" stroke="#878787" stroke-width="1"/>
<text x="730.05" y="558" font-size="11.7" text-anchor="end" fill="#2a2425" transform="rotate(-45 730.05 558)">2 PM</text>
<line x1="740.5" y1="544.3" x2="740.5" y2="547.9" stroke="#878787" stroke-width="1"/>
<text x="744.15" y="558" font-size="11.7" text-anchor="end" fill="#2a2425" transform="rotate(-45 744.15 558)">5 PM</text>
<text x="378" y="481.3" font-size="13" text-anchor="middle" fill="#2a2425" transform="rotate(-90 378 481.3)">Glycine (µM)</text>
<line x1="422.5" y1="688.3" x2="422.5" y2="691.3" stroke="#7c7274" stroke-width="1"/>
<line x1="419.55" y1="688.5" x2="425.55" y2="688.5" stroke="#7c7274" stroke-width="1"/>
<rect x="416.8" y="691.3" width="11.5" height="28.2" fill="#3a201f"/>
<line x1="436.5" y1="662.8" x2="436.5" y2="673" stroke="#7c7274" stroke-width="1"/>
<line x1="433.65" y1="662.5" x2="439.65" y2="662.5" stroke="#7c7274" stroke-width="1"/>
<rect x="430.9" y="673" width="11.5" height="46.5" fill="#3a201f"/>
<line x1="450.5" y1="685.3" x2="450.5" y2="688.3" stroke="#7c7274" stroke-width="1"/>
<line x1="447.75" y1="685.5" x2="453.75" y2="685.5" stroke="#7c7274" stroke-width="1"/>
<rect x="445" y="688.3" width="11.5" height="31.2" fill="#3a201f"/>
<line x1="464.5" y1="693.3" x2="464.5" y2="697" stroke="#7c7274" stroke-width="1"/>
<line x1="461.85" y1="693.5" x2="467.85" y2="693.5" stroke="#7c7274" stroke-width="1"/>
<rect x="459.1" y="697" width="11.5" height="22.5" fill="#3a201f"/>
<line x1="491.5" y1="692.3" x2="491.5" y2="695" stroke="#8f8f8f" stroke-width="1"/>
<line x1="488.45" y1="692.5" x2="494.45" y2="692.5" stroke="#8f8f8f" stroke-width="1"/>
<rect x="485.7" y="695" width="11.5" height="24.5" fill="#757575"/>
<line x1="505.5" y1="693.3" x2="505.5" y2="696.8" stroke="#8f8f8f" stroke-width="1"/>
<line x1="502.55" y1="693.5" x2="508.55" y2="693.5" stroke="#8f8f8f" stroke-width="1"/>
<rect x="499.8" y="696.8" width="11.5" height="22.7" fill="#757575"/>
<line x1="519.5" y1="686.8" x2="519.5" y2="694" stroke="#8f8f8f" stroke-width="1"/>
<line x1="516.65" y1="686.5" x2="522.65" y2="686.5" stroke="#8f8f8f" stroke-width="1"/>
<rect x="513.9" y="694" width="11.5" height="25.5" fill="#757575"/>
<line x1="533.5" y1="686.8" x2="533.5" y2="694.3" stroke="#8f8f8f" stroke-width="1"/>
<line x1="530.75" y1="686.5" x2="536.75" y2="686.5" stroke="#8f8f8f" stroke-width="1"/>
<rect x="528" y="694.3" width="11.5" height="25.2" fill="#757575"/>
<line x1="560.5" y1="653" x2="560.5" y2="667.3" stroke="#b8b8b8" stroke-width="1"/>
<line x1="557.35" y1="653.5" x2="563.35" y2="653.5" stroke="#b8b8b8" stroke-width="1"/>
<rect x="554.6" y="667.3" width="11.5" height="52.2" fill="#a3a3a3"/>
<line x1="574.5" y1="630.5" x2="574.5" y2="651.3" stroke="#b8b8b8" stroke-width="1"/>
<line x1="571.45" y1="630.5" x2="577.45" y2="630.5" stroke="#b8b8b8" stroke-width="1"/>
<rect x="568.7" y="651.3" width="11.5" height="68.2" fill="#a3a3a3"/>
<line x1="588.5" y1="638" x2="588.5" y2="660.5" stroke="#b8b8b8" stroke-width="1"/>
<line x1="585.55" y1="638.5" x2="591.55" y2="638.5" stroke="#b8b8b8" stroke-width="1"/>
<rect x="582.8" y="660.5" width="11.5" height="59" fill="#a3a3a3"/>
<line x1="602.5" y1="648.3" x2="602.5" y2="665.8" stroke="#b8b8b8" stroke-width="1"/>
<line x1="599.65" y1="648.5" x2="605.65" y2="648.5" stroke="#b8b8b8" stroke-width="1"/>
<rect x="596.9" y="665.8" width="11.5" height="53.7" fill="#a3a3a3"/>
<line x1="629.5" y1="672.5" x2="629.5" y2="681.8" stroke="#dbdbdb" stroke-width="1"/>
<line x1="626.25" y1="672.5" x2="632.25" y2="672.5" stroke="#dbdbdb" stroke-width="1"/>
<rect x="623.5" y="681.8" width="11.5" height="37.7" fill="#c9caca"/>
<line x1="643.5" y1="677.5" x2="643.5" y2="682.8" stroke="#dbdbdb" stroke-width="1"/>
<line x1="640.35" y1="677.5" x2="646.35" y2="677.5" stroke="#dbdbdb" stroke-width="1"/>
<rect x="637.6" y="682.8" width="11.5" height="36.7" fill="#c9caca"/>
<line x1="657.5" y1="685.3" x2="657.5" y2="688.5" stroke="#dbdbdb" stroke-width="1"/>
<line x1="654.45" y1="685.5" x2="660.45" y2="685.5" stroke="#dbdbdb" stroke-width="1"/>
<rect x="651.7" y="688.5" width="11.5" height="31" fill="#c9caca"/>
<line x1="671.5" y1="690" x2="671.5" y2="693.8" stroke="#dbdbdb" stroke-width="1"/>
<line x1="668.55" y1="690.5" x2="674.55" y2="690.5" stroke="#dbdbdb" stroke-width="1"/>
<rect x="665.8" y="693.8" width="11.5" height="25.7" fill="#c9caca"/>
<line x1="698.5" y1="653.8" x2="698.5" y2="661.3" stroke="#f1f1f1" stroke-width="1"/>
<line x1="695.15" y1="653.5" x2="701.15" y2="653.5" stroke="#f1f1f1" stroke-width="1"/>
<rect x="692.4" y="661.3" width="11.5" height="58.2" fill="#ebebeb"/>
<line x1="712.5" y1="628.8" x2="712.5" y2="637.5" stroke="#f1f1f1" stroke-width="1"/>
<line x1="709.25" y1="628.5" x2="715.25" y2="628.5" stroke="#f1f1f1" stroke-width="1"/>
<rect x="706.5" y="637.5" width="11.5" height="82" fill="#ebebeb"/>
<line x1="726.5" y1="604.5" x2="726.5" y2="632" stroke="#f1f1f1" stroke-width="1"/>
<line x1="723.35" y1="604.5" x2="729.35" y2="604.5" stroke="#f1f1f1" stroke-width="1"/>
<rect x="720.6" y="632" width="11.5" height="87.5" fill="#ebebeb"/>
<line x1="740.5" y1="659.5" x2="740.5" y2="665" stroke="#f1f1f1" stroke-width="1"/>
<line x1="737.45" y1="659.5" x2="743.45" y2="659.5" stroke="#f1f1f1" stroke-width="1"/>
<rect x="734.7" y="665" width="11.5" height="54.5" fill="#ebebeb"/>
<line x1="409.5" y1="597" x2="409.5" y2="719.9" stroke="#878787" stroke-width="1"/>
<line x1="406.3" y1="621.5" x2="409.3" y2="621.5" stroke="#878787" stroke-width="1"/>
<text x="404.8" y="625.48" font-size="11.6" text-anchor="end" fill="#2a2425">600</text>
<line x1="406.3" y1="654.5" x2="409.3" y2="654.5" stroke="#878787" stroke-width="1"/>
<text x="404.8" y="658.38" font-size="11.6" text-anchor="end" fill="#2a2425">400</text>
<line x1="406.3" y1="687.5" x2="409.3" y2="687.5" stroke="#878787" stroke-width="1"/>
<text x="404.8" y="691.18" font-size="11.6" text-anchor="end" fill="#2a2425">200</text>
<line x1="406.3" y1="719.5" x2="409.3" y2="719.5" stroke="#878787" stroke-width="1"/>
<text x="404.8" y="723.68" font-size="11.6" text-anchor="end" fill="#2a2425">0</text>
<line x1="408.9" y1="719.5" x2="753.5" y2="719.5" stroke="#878787" stroke-width="1"/>
<line x1="422.5" y1="719.5" x2="422.5" y2="723.1" stroke="#878787" stroke-width="1"/>
<text x="426.25" y="733.2" font-size="11.7" text-anchor="end" fill="#2a2425" transform="rotate(-45 426.25 733.2)">8 AM</text>
<line x1="436.5" y1="719.5" x2="436.5" y2="723.1" stroke="#878787" stroke-width="1"/>
<text x="440.35" y="733.2" font-size="11.7" text-anchor="end" fill="#2a2425" transform="rotate(-45 440.35 733.2)">11 AM</text>
<line x1="450.5" y1="719.5" x2="450.5" y2="723.1" stroke="#878787" stroke-width="1"/>
<text x="454.45" y="733.2" font-size="11.7" text-anchor="end" fill="#2a2425" transform="rotate(-45 454.45 733.2)">2 PM</text>
<line x1="464.5" y1="719.5" x2="464.5" y2="723.1" stroke="#878787" stroke-width="1"/>
<text x="468.55" y="733.2" font-size="11.7" text-anchor="end" fill="#2a2425" transform="rotate(-45 468.55 733.2)">5 PM</text>
<line x1="491.5" y1="719.5" x2="491.5" y2="723.1" stroke="#878787" stroke-width="1"/>
<text x="495.15" y="733.2" font-size="11.7" text-anchor="end" fill="#2a2425" transform="rotate(-45 495.15 733.2)">8 AM</text>
<line x1="505.5" y1="719.5" x2="505.5" y2="723.1" stroke="#878787" stroke-width="1"/>
<text x="509.25" y="733.2" font-size="11.7" text-anchor="end" fill="#2a2425" transform="rotate(-45 509.25 733.2)">11 AM</text>
<line x1="519.5" y1="719.5" x2="519.5" y2="723.1" stroke="#878787" stroke-width="1"/>
<text x="523.35" y="733.2" font-size="11.7" text-anchor="end" fill="#2a2425" transform="rotate(-45 523.35 733.2)">2 PM</text>
<line x1="533.5" y1="719.5" x2="533.5" y2="723.1" stroke="#878787" stroke-width="1"/>
<text x="537.45" y="733.2" font-size="11.7" text-anchor="end" fill="#2a2425" transform="rotate(-45 537.45 733.2)">5 PM</text>
<line x1="560.5" y1="719.5" x2="560.5" y2="723.1" stroke="#878787" stroke-width="1"/>
<text x="564.05" y="733.2" font-size="11.7" text-anchor="end" fill="#2a2425" transform="rotate(-45 564.05 733.2)">8 AM</text>
<line x1="574.5" y1="719.5" x2="574.5" y2="723.1" stroke="#878787" stroke-width="1"/>
<text x="578.15" y="733.2" font-size="11.7" text-anchor="end" fill="#2a2425" transform="rotate(-45 578.15 733.2)">11 AM</text>
<line x1="588.5" y1="719.5" x2="588.5" y2="723.1" stroke="#878787" stroke-width="1"/>
<text x="592.25" y="733.2" font-size="11.7" text-anchor="end" fill="#2a2425" transform="rotate(-45 592.25 733.2)">2 PM</text>
<line x1="602.5" y1="719.5" x2="602.5" y2="723.1" stroke="#878787" stroke-width="1"/>
<text x="606.35" y="733.2" font-size="11.7" text-anchor="end" fill="#2a2425" transform="rotate(-45 606.35 733.2)">5 PM</text>
<line x1="629.5" y1="719.5" x2="629.5" y2="723.1" stroke="#878787" stroke-width="1"/>
<text x="632.95" y="733.2" font-size="11.7" text-anchor="end" fill="#2a2425" transform="rotate(-45 632.95 733.2)">8 AM</text>
<line x1="643.5" y1="719.5" x2="643.5" y2="723.1" stroke="#878787" stroke-width="1"/>
<text x="647.05" y="733.2" font-size="11.7" text-anchor="end" fill="#2a2425" transform="rotate(-45 647.05 733.2)">11 AM</text>
<line x1="657.5" y1="719.5" x2="657.5" y2="723.1" stroke="#878787" stroke-width="1"/>
<text x="661.15" y="733.2" font-size="11.7" text-anchor="end" fill="#2a2425" transform="rotate(-45 661.15 733.2)">2 PM</text>
<line x1="671.5" y1="719.5" x2="671.5" y2="723.1" stroke="#878787" stroke-width="1"/>
<text x="675.25" y="733.2" font-size="11.7" text-anchor="end" fill="#2a2425" transform="rotate(-45 675.25 733.2)">5 PM</text>
<line x1="698.5" y1="719.5" x2="698.5" y2="723.1" stroke="#878787" stroke-width="1"/>
<text x="701.85" y="733.2" font-size="11.7" text-anchor="end" fill="#2a2425" transform="rotate(-45 701.85 733.2)">8 AM</text>
<line x1="712.5" y1="719.5" x2="712.5" y2="723.1" stroke="#878787" stroke-width="1"/>
<text x="715.95" y="733.2" font-size="11.7" text-anchor="end" fill="#2a2425" transform="rotate(-45 715.95 733.2)">11 AM</text>
<line x1="726.5" y1="719.5" x2="726.5" y2="723.1" stroke="#878787" stroke-width="1"/>
<text x="730.05" y="733.2" font-size="11.7" text-anchor="end" fill="#2a2425" transform="rotate(-45 730.05 733.2)">2 PM</text>
<line x1="740.5" y1="719.5" x2="740.5" y2="723.1" stroke="#878787" stroke-width="1"/>
<text x="744.15" y="733.2" font-size="11.7" text-anchor="end" fill="#2a2425" transform="rotate(-45 744.15 733.2)">5 PM</text>
<text x="378" y="656.9" font-size="13" text-anchor="middle" fill="#2a2425" transform="rotate(-90 378 656.9)">Lysine (µM)</text>
</g>
<g id="panelG">
<line x1="146.2" y1="361.5" x2="158.8" y2="361.5" stroke="#c8c8c8" stroke-width="1"/>
<polygon points="152.5,359 149.9,363.55 155.1,363.55" fill="#c8c8c8"/>
<text x="165" y="365.3" font-size="10.9" fill="#2a2425">High serine diet</text>
<line x1="146.2" y1="377.5" x2="158.8" y2="377.5" stroke="#5e5454" stroke-width="0.8"/>
<rect x="150.2" y="375.2" width="4.6" height="4.6" fill="#2c1d1c"/>
<text x="165" y="381.1" font-size="10.9" fill="#2a2425">Control diet</text>
<line x1="146.2" y1="393.1" x2="158.8" y2="393.1" stroke="#2c1d1c" stroke-width="1.3" stroke-dasharray="3.4 2.4"/>
<circle cx="152.5" cy="393.1" r="2.4" fill="#2c1d1c"/>
<text x="165" y="396.9" font-size="10.95" fill="#2a2425">Serine and glycine free diet</text>
<line x1="137.5" y1="396.3" x2="137.5" y2="512.4" stroke="#878787" stroke-width="1"/>
<line x1="134.5" y1="396.5" x2="137.5" y2="396.5" stroke="#878787" stroke-width="1"/>
<text x="133" y="400.33" font-size="11.2" text-anchor="end" fill="#2a2425">400</text>
<line x1="134.5" y1="425.5" x2="137.5" y2="425.5" stroke="#878787" stroke-width="1"/>
<text x="133" y="429.33" font-size="11.2" text-anchor="end" fill="#2a2425">300</text>
<line x1="134.5" y1="454.5" x2="137.5" y2="454.5" stroke="#878787" stroke-width="1"/>
<text x="133" y="458.23" font-size="11.2" text-anchor="end" fill="#2a2425">200</text>
<line x1="134.5" y1="483.5" x2="137.5" y2="483.5" stroke="#878787" stroke-width="1"/>
<text x="133" y="487.13" font-size="11.2" text-anchor="end" fill="#2a2425">100</text>
<line x1="134.5" y1="512.5" x2="137.5" y2="512.5" stroke="#878787" stroke-width="1"/>
<text x="133" y="516.03" font-size="11.2" text-anchor="end" fill="#2a2425">0</text>
<line x1="137.1" y1="512.5" x2="313.8" y2="512.5" stroke="#878787" stroke-width="1"/>
<line x1="137.5" y1="512" x2="137.5" y2="515.4" stroke="#878787" stroke-width="1"/>
<text x="137.5" y="524.4" font-size="11.2" text-anchor="middle" fill="#2a2425">0</text>
<line x1="187.5" y1="512" x2="187.5" y2="515.4" stroke="#878787" stroke-width="1"/>
<text x="187.7" y="524.4" font-size="11.2" text-anchor="middle" fill="#2a2425">10</text>
<line x1="238.5" y1="512" x2="238.5" y2="515.4" stroke="#878787" stroke-width="1"/>
<text x="238" y="524.4" font-size="11.2" text-anchor="middle" fill="#2a2425">20</text>
<line x1="288.5" y1="512" x2="288.5" y2="515.4" stroke="#878787" stroke-width="1"/>
<text x="288.3" y="524.4" font-size="11.2" text-anchor="middle" fill="#2a2425">30</text>
<polyline points="137.5,443.8 152.6,444 187.7,419.3 288.3,434.5" fill="none" stroke="#d0d0d0" stroke-width="0.8"/>
<line x1="137.5" y1="431.5" x2="137.5" y2="456" stroke="#d0d0d0" stroke-width="0.9"/>
<line x1="135" y1="431.5" x2="140" y2="431.5" stroke="#d0d0d0" stroke-width="0.9"/>
<line x1="135" y1="456.5" x2="140" y2="456.5" stroke="#d0d0d0" stroke-width="0.9"/>
<polygon points="137.5,441.2 134.9,445.75 140.1,445.75" fill="#c8c8c8"/>
<line x1="152.5" y1="429.3" x2="152.5" y2="456.5" stroke="#d0d0d0" stroke-width="0.9"/>
<line x1="150.1" y1="429.5" x2="155.1" y2="429.5" stroke="#d0d0d0" stroke-width="0.9"/>
<line x1="150.1" y1="456.5" x2="155.1" y2="456.5" stroke="#d0d0d0" stroke-width="0.9"/>
<polygon points="152.6,441.4 150,445.95 155.2,445.95" fill="#c8c8c8"/>
<line x1="187.5" y1="407.5" x2="187.5" y2="431.3" stroke="#d0d0d0" stroke-width="0.9"/>
<line x1="185.2" y1="407.5" x2="190.2" y2="407.5" stroke="#d0d0d0" stroke-width="0.9"/>
<line x1="185.2" y1="431.5" x2="190.2" y2="431.5" stroke="#d0d0d0" stroke-width="0.9"/>
<polygon points="187.7,416.7 185.1,421.25 190.3,421.25" fill="#c8c8c8"/>
<line x1="288.5" y1="420.5" x2="288.5" y2="447.5" stroke="#d0d0d0" stroke-width="0.9"/>
<line x1="285.8" y1="420.5" x2="290.8" y2="420.5" stroke="#d0d0d0" stroke-width="0.9"/>
<line x1="285.8" y1="447.5" x2="290.8" y2="447.5" stroke="#d0d0d0" stroke-width="0.9"/>
<polygon points="288.3,431.9 285.7,436.45 290.9,436.45" fill="#c8c8c8"/>
<polyline points="137.5,445 152.6,449.5 187.7,445.8 288.3,461.3" fill="none" stroke="#5e5454" stroke-width="0.8"/>
<line x1="137.5" y1="436" x2="137.5" y2="454" stroke="#5e5454" stroke-width="0.9"/>
<line x1="135" y1="436.5" x2="140" y2="436.5" stroke="#5e5454" stroke-width="0.9"/>
<line x1="135" y1="454.5" x2="140" y2="454.5" stroke="#5e5454" stroke-width="0.9"/>
<rect x="135.2" y="442.7" width="4.6" height="4.6" fill="#2c1d1c"/>
<rect x="150.3" y="447.2" width="4.6" height="4.6" fill="#2c1d1c"/>
<line x1="187.5" y1="432" x2="187.5" y2="459.5" stroke="#5e5454" stroke-width="0.9"/>
<line x1="185.2" y1="432.5" x2="190.2" y2="432.5" stroke="#5e5454" stroke-width="0.9"/>
<line x1="185.2" y1="459.5" x2="190.2" y2="459.5" stroke="#5e5454" stroke-width="0.9"/>
<rect x="185.4" y="443.5" width="4.6" height="4.6" fill="#2c1d1c"/>
<line x1="288.5" y1="451.5" x2="288.5" y2="470.8" stroke="#5e5454" stroke-width="0.9"/>
<line x1="285.8" y1="451.5" x2="290.8" y2="451.5" stroke="#5e5454" stroke-width="0.9"/>
<line x1="285.8" y1="470.5" x2="290.8" y2="470.5" stroke="#5e5454" stroke-width="0.9"/>
<rect x="286" y="459" width="4.6" height="4.6" fill="#2c1d1c"/>
<polyline points="137.5,446.3 152.6,482.5 187.7,478.3 288.3,484.5" fill="none" stroke="#2c1d1c" stroke-width="1.3" stroke-dasharray="4.2 2.6"/>
<line x1="137.5" y1="431.3" x2="137.5" y2="462.5" stroke="#5e5454" stroke-width="0.9"/>
<line x1="135" y1="431.5" x2="140" y2="431.5" stroke="#5e5454" stroke-width="0.9"/>
<line x1="135" y1="462.5" x2="140" y2="462.5" stroke="#5e5454" stroke-width="0.9"/>
<circle cx="137.5" cy="446.3" r="2.4" fill="#2c1d1c"/>
<line x1="152.5" y1="478.8" x2="152.5" y2="486.8" stroke="#5e5454" stroke-width="0.9"/>
<line x1="150.1" y1="478.5" x2="155.1" y2="478.5" stroke="#5e5454" stroke-width="0.9"/>
<line x1="150.1" y1="486.5" x2="155.1" y2="486.5" stroke="#5e5454" stroke-width="0.9"/>
<circle cx="152.6" cy="482.5" r="2.4" fill="#2c1d1c"/>
<line x1="187.5" y1="475.8" x2="187.5" y2="480.8" stroke="#5e5454" stroke-width="0.9"/>
<line x1="185.2" y1="475.5" x2="190.2" y2="475.5" stroke="#5e5454" stroke-width="0.9"/>
<line x1="185.2" y1="480.5" x2="190.2" y2="480.5" stroke="#5e5454" stroke-width="0.9"/>
<circle cx="187.7" cy="478.3" r="2.4" fill="#2c1d1c"/>
<line x1="288.5" y1="476.3" x2="288.5" y2="492.5" stroke="#5e5454" stroke-width="0.9"/>
<line x1="285.8" y1="476.5" x2="290.8" y2="476.5" stroke="#5e5454" stroke-width="0.9"/>
<line x1="285.8" y1="492.5" x2="290.8" y2="492.5" stroke="#5e5454" stroke-width="0.9"/>
<circle cx="288.3" cy="484.5" r="2.4" fill="#2c1d1c"/>
<text x="107.6" y="452.6" font-size="12.4" text-anchor="middle" fill="#2a2425" transform="rotate(-90 107.6 452.6)">Serine (µM)</text>
<text x="225.3" y="543.8" font-size="12.4" text-anchor="middle" fill="#2a2425">Days on diet</text>
<line x1="137.5" y1="543.8" x2="137.5" y2="660.7" stroke="#878787" stroke-width="1"/>
<line x1="134.5" y1="543.5" x2="137.5" y2="543.5" stroke="#878787" stroke-width="1"/>
<text x="133" y="547.83" font-size="11.2" text-anchor="end" fill="#2a2425">1000</text>
<line x1="134.5" y1="567.5" x2="137.5" y2="567.5" stroke="#878787" stroke-width="1"/>
<text x="133" y="571.03" font-size="11.2" text-anchor="end" fill="#2a2425">800</text>
<line x1="134.5" y1="590.5" x2="137.5" y2="590.5" stroke="#878787" stroke-width="1"/>
<text x="133" y="594.33" font-size="11.2" text-anchor="end" fill="#2a2425">600</text>
<line x1="134.5" y1="613.5" x2="137.5" y2="613.5" stroke="#878787" stroke-width="1"/>
<text x="133" y="617.63" font-size="11.2" text-anchor="end" fill="#2a2425">400</text>
<line x1="134.5" y1="636.5" x2="137.5" y2="636.5" stroke="#878787" stroke-width="1"/>
<text x="133" y="640.93" font-size="11.2" text-anchor="end" fill="#2a2425">200</text>
<line x1="134.5" y1="660.5" x2="137.5" y2="660.5" stroke="#878787" stroke-width="1"/>
<text x="133" y="664.33" font-size="11.2" text-anchor="end" fill="#2a2425">0</text>
<line x1="137.1" y1="660.5" x2="315" y2="660.5" stroke="#878787" stroke-width="1"/>
<line x1="137.5" y1="660.3" x2="137.5" y2="663.7" stroke="#878787" stroke-width="1"/>
<text x="137.5" y="672.7" font-size="11.2" text-anchor="middle" fill="#2a2425">0</text>
<line x1="188.5" y1="660.3" x2="188.5" y2="663.7" stroke="#878787" stroke-width="1"/>
<text x="188" y="672.7" font-size="11.2" text-anchor="middle" fill="#2a2425">10</text>
<line x1="238.5" y1="660.3" x2="238.5" y2="663.7" stroke="#878787" stroke-width="1"/>
<text x="238.5" y="672.7" font-size="11.2" text-anchor="middle" fill="#2a2425">20</text>
<line x1="289.5" y1="660.3" x2="289.5" y2="663.7" stroke="#878787" stroke-width="1"/>
<text x="289.5" y="672.7" font-size="11.2" text-anchor="middle" fill="#2a2425">30</text>
<polyline points="137.5,578.5 152.8,592.3 188,571.3 289.5,580.8" fill="none" stroke="#d0d0d0" stroke-width="0.8"/>
<line x1="137.5" y1="567.5" x2="137.5" y2="602.5" stroke="#d0d0d0" stroke-width="0.9"/>
<line x1="135" y1="567.5" x2="140" y2="567.5" stroke="#d0d0d0" stroke-width="0.9"/>
<line x1="135" y1="602.5" x2="140" y2="602.5" stroke="#d0d0d0" stroke-width="0.9"/>
<polygon points="137.5,575.9 134.9,580.45 140.1,580.45" fill="#c8c8c8"/>
<line x1="152.5" y1="577" x2="152.5" y2="612.5" stroke="#d0d0d0" stroke-width="0.9"/>
<line x1="150.3" y1="577.5" x2="155.3" y2="577.5" stroke="#d0d0d0" stroke-width="0.9"/>
<line x1="150.3" y1="612.5" x2="155.3" y2="612.5" stroke="#d0d0d0" stroke-width="0.9"/>
<polygon points="152.8,589.7 150.2,594.25 155.4,594.25" fill="#c8c8c8"/>
<line x1="188.5" y1="561.3" x2="188.5" y2="581" stroke="#d0d0d0" stroke-width="0.9"/>
<line x1="185.5" y1="561.5" x2="190.5" y2="561.5" stroke="#d0d0d0" stroke-width="0.9"/>
<line x1="185.5" y1="581.5" x2="190.5" y2="581.5" stroke="#d0d0d0" stroke-width="0.9"/>
<polygon points="188,568.7 185.4,573.25 190.6,573.25" fill="#c8c8c8"/>
<line x1="289.5" y1="566.8" x2="289.5" y2="594" stroke="#d0d0d0" stroke-width="0.9"/>
<line x1="287" y1="566.5" x2="292" y2="566.5" stroke="#d0d0d0" stroke-width="0.9"/>
<line x1="287" y1="594.5" x2="292" y2="594.5" stroke="#d0d0d0" stroke-width="0.9"/>
<polygon points="289.5,578.2 286.9,582.75 292.1,582.75" fill="#c8c8c8"/>
<polyline points="137.5,579.3 152.8,592.5 188,579 289.5,587" fill="none" stroke="#5e5454" stroke-width="0.8"/>
<line x1="137.5" y1="571" x2="137.5" y2="588" stroke="#5e5454" stroke-width="0.9"/>
<line x1="135" y1="571.5" x2="140" y2="571.5" stroke="#5e5454" stroke-width="0.9"/>
<line x1="135" y1="588.5" x2="140" y2="588.5" stroke="#5e5454" stroke-width="0.9"/>
<rect x="135.2" y="577" width="4.6" height="4.6" fill="#2c1d1c"/>
<line x1="152.5" y1="582.5" x2="152.5" y2="602.5" stroke="#5e5454" stroke-width="0.9"/>
<line x1="150.3" y1="582.5" x2="155.3" y2="582.5" stroke="#5e5454" stroke-width="0.9"/>
<line x1="150.3" y1="602.5" x2="155.3" y2="602.5" stroke="#5e5454" stroke-width="0.9"/>
<rect x="150.5" y="590.2" width="4.6" height="4.6" fill="#2c1d1c"/>
<line x1="188.5" y1="562" x2="188.5" y2="596.3" stroke="#5e5454" stroke-width="0.9"/>
<line x1="185.5" y1="562.5" x2="190.5" y2="562.5" stroke="#5e5454" stroke-width="0.9"/>
<line x1="185.5" y1="596.5" x2="190.5" y2="596.5" stroke="#5e5454" stroke-width="0.9"/>
<rect x="185.7" y="576.7" width="4.6" height="4.6" fill="#2c1d1c"/>
<line x1="289.5" y1="570.5" x2="289.5" y2="603.3" stroke="#5e5454" stroke-width="0.9"/>
<line x1="287" y1="570.5" x2="292" y2="570.5" stroke="#5e5454" stroke-width="0.9"/>
<line x1="287" y1="603.5" x2="292" y2="603.5" stroke="#5e5454" stroke-width="0.9"/>
<rect x="287.2" y="584.7" width="4.6" height="4.6" fill="#2c1d1c"/>
<polyline points="137.5,585.8 152.8,645.5 188,639.5 289.5,640.8" fill="none" stroke="#2c1d1c" stroke-width="1.3" stroke-dasharray="4.2 2.6"/>
<circle cx="137.5" cy="585.8" r="2.4" fill="#2c1d1c"/>
<circle cx="152.8" cy="645.5" r="2.4" fill="#2c1d1c"/>
<circle cx="188" cy="639.5" r="2.4" fill="#2c1d1c"/>
<line x1="289.5" y1="638.5" x2="289.5" y2="643" stroke="#5e5454" stroke-width="0.9"/>
<line x1="287" y1="638.5" x2="292" y2="638.5" stroke="#5e5454" stroke-width="0.9"/>
<line x1="287" y1="643.5" x2="292" y2="643.5" stroke="#5e5454" stroke-width="0.9"/>
<circle cx="289.5" cy="640.8" r="2.4" fill="#2c1d1c"/>
<text x="100.5" y="600.3" font-size="12.4" text-anchor="middle" fill="#2a2425" transform="rotate(-90 100.5 600.3)">Glycine (µM)</text>
<text x="226" y="692" font-size="12.4" text-anchor="middle" fill="#2a2425">Days on diet</text>
</g>
<g id="panelH">
<line x1="137.5" y1="693" x2="137.5" y2="812.9" stroke="#878787" stroke-width="1"/>
<line x1="134.5" y1="693.5" x2="137.5" y2="693.5" stroke="#878787" stroke-width="1"/>
<text x="133" y="697.07" font-size="11.3" text-anchor="end" fill="#2a2425">35</text>
<line x1="134.5" y1="733.5" x2="137.5" y2="733.5" stroke="#878787" stroke-width="1"/>
<text x="133" y="737.07" font-size="11.3" text-anchor="end" fill="#2a2425">30</text>
<line x1="134.5" y1="773.5" x2="137.5" y2="773.5" stroke="#878787" stroke-width="1"/>
<text x="133" y="777.07" font-size="11.3" text-anchor="end" fill="#2a2425">25</text>
<line x1="134.5" y1="812.5" x2="137.5" y2="812.5" stroke="#878787" stroke-width="1"/>
<text x="133" y="816.57" font-size="11.3" text-anchor="end" fill="#2a2425">20</text>
<line x1="137.1" y1="812.5" x2="319.5" y2="812.5" stroke="#878787" stroke-width="1"/>
<line x1="137.5" y1="812.5" x2="137.5" y2="815.9" stroke="#878787" stroke-width="1"/>
<text x="137.5" y="825.5" font-size="11.3" text-anchor="middle" fill="#2a2425">0</text>
<line x1="188.5" y1="812.5" x2="188.5" y2="815.9" stroke="#878787" stroke-width="1"/>
<text x="188.8" y="825.5" font-size="11.3" text-anchor="middle" fill="#2a2425">10</text>
<line x1="240.5" y1="812.5" x2="240.5" y2="815.9" stroke="#878787" stroke-width="1"/>
<text x="240.5" y="825.5" font-size="11.3" text-anchor="middle" fill="#2a2425">20</text>
<line x1="292.5" y1="812.5" x2="292.5" y2="815.9" stroke="#878787" stroke-width="1"/>
<text x="292.5" y="825.5" font-size="11.3" text-anchor="middle" fill="#2a2425">30</text>
<polyline points="137.5,781 153,771.3 188.8,767.3 297.8,755.5" fill="none" stroke="#d0d0d0" stroke-width="0.8"/>
<line x1="137.5" y1="766" x2="137.5" y2="795" stroke="#d0d0d0" stroke-width="0.9"/>
<line x1="135" y1="766.5" x2="140" y2="766.5" stroke="#d0d0d0" stroke-width="0.9"/>
<line x1="135" y1="795.5" x2="140" y2="795.5" stroke="#d0d0d0" stroke-width="0.9"/>
<polygon points="137.5,778.4 134.9,782.95 140.1,782.95" fill="#c8c8c8"/>
<line x1="153.5" y1="753.8" x2="153.5" y2="789" stroke="#d0d0d0" stroke-width="0.9"/>
<line x1="150.5" y1="753.5" x2="155.5" y2="753.5" stroke="#d0d0d0" stroke-width="0.9"/>
<line x1="150.5" y1="789.5" x2="155.5" y2="789.5" stroke="#d0d0d0" stroke-width="0.9"/>
<polygon points="153,768.7 150.4,773.25 155.6,773.25" fill="#c8c8c8"/>
<line x1="188.5" y1="749.5" x2="188.5" y2="785" stroke="#d0d0d0" stroke-width="0.9"/>
<line x1="186.3" y1="749.5" x2="191.3" y2="749.5" stroke="#d0d0d0" stroke-width="0.9"/>
<line x1="186.3" y1="785.5" x2="191.3" y2="785.5" stroke="#d0d0d0" stroke-width="0.9"/>
<polygon points="188.8,764.7 186.2,769.25 191.4,769.25" fill="#c8c8c8"/>
<line x1="297.5" y1="733.8" x2="297.5" y2="770" stroke="#d0d0d0" stroke-width="0.9"/>
<line x1="295.3" y1="733.5" x2="300.3" y2="733.5" stroke="#d0d0d0" stroke-width="0.9"/>
<line x1="295.3" y1="770.5" x2="300.3" y2="770.5" stroke="#d0d0d0" stroke-width="0.9"/>
<polygon points="297.8,752.9 295.2,757.45 300.4,757.45" fill="#c8c8c8"/>
<polyline points="137.5,774 153,768 188.8,762.3 297.8,752.3" fill="none" stroke="#5e5454" stroke-width="0.8"/>
<line x1="137.5" y1="760.5" x2="137.5" y2="787" stroke="#5e5454" stroke-width="0.9"/>
<line x1="135" y1="760.5" x2="140" y2="760.5" stroke="#5e5454" stroke-width="0.9"/>
<line x1="135" y1="787.5" x2="140" y2="787.5" stroke="#5e5454" stroke-width="0.9"/>
<rect x="135.2" y="771.7" width="4.6" height="4.6" fill="#2c1d1c"/>
<line x1="153.5" y1="760.5" x2="153.5" y2="776" stroke="#5e5454" stroke-width="0.9"/>
<line x1="150.5" y1="760.5" x2="155.5" y2="760.5" stroke="#5e5454" stroke-width="0.9"/>
<line x1="150.5" y1="776.5" x2="155.5" y2="776.5" stroke="#5e5454" stroke-width="0.9"/>
<rect x="150.7" y="765.7" width="4.6" height="4.6" fill="#2c1d1c"/>
<line x1="188.5" y1="752.3" x2="188.5" y2="772" stroke="#5e5454" stroke-width="0.9"/>
<line x1="186.3" y1="752.5" x2="191.3" y2="752.5" stroke="#5e5454" stroke-width="0.9"/>
<line x1="186.3" y1="772.5" x2="191.3" y2="772.5" stroke="#5e5454" stroke-width="0.9"/>
<rect x="186.5" y="760" width="4.6" height="4.6" fill="#2c1d1c"/>
<line x1="297.5" y1="745.5" x2="297.5" y2="759" stroke="#5e5454" stroke-width="0.9"/>
<line x1="295.3" y1="745.5" x2="300.3" y2="745.5" stroke="#5e5454" stroke-width="0.9"/>
<line x1="295.3" y1="759.5" x2="300.3" y2="759.5" stroke="#5e5454" stroke-width="0.9"/>
<rect x="295.5" y="750" width="4.6" height="4.6" fill="#2c1d1c"/>
<polyline points="137.5,775.3 153,774.8 188.8,771.8 297.8,758.3" fill="none" stroke="#2c1d1c" stroke-width="1.3" stroke-dasharray="4.2 2.6"/>
<line x1="137.5" y1="765" x2="137.5" y2="791" stroke="#5e5454" stroke-width="0.9"/>
<line x1="135" y1="765.5" x2="140" y2="765.5" stroke="#5e5454" stroke-width="0.9"/>
<line x1="135" y1="791.5" x2="140" y2="791.5" stroke="#5e5454" stroke-width="0.9"/>
<circle cx="137.5" cy="775.3" r="2.4" fill="#2c1d1c"/>
<line x1="153.5" y1="762.3" x2="153.5" y2="789.3" stroke="#5e5454" stroke-width="0.9"/>
<line x1="150.5" y1="762.5" x2="155.5" y2="762.5" stroke="#5e5454" stroke-width="0.9"/>
<line x1="150.5" y1="789.5" x2="155.5" y2="789.5" stroke="#5e5454" stroke-width="0.9"/>
<circle cx="153" cy="774.8" r="2.4" fill="#2c1d1c"/>
<line x1="188.5" y1="753.5" x2="188.5" y2="787.3" stroke="#5e5454" stroke-width="0.9"/>
<line x1="186.3" y1="753.5" x2="191.3" y2="753.5" stroke="#5e5454" stroke-width="0.9"/>
<line x1="186.3" y1="787.5" x2="191.3" y2="787.5" stroke="#5e5454" stroke-width="0.9"/>
<circle cx="188.8" cy="771.8" r="2.4" fill="#2c1d1c"/>
<line x1="297.5" y1="745.5" x2="297.5" y2="770.3" stroke="#5e5454" stroke-width="0.9"/>
<line x1="295.3" y1="745.5" x2="300.3" y2="745.5" stroke="#5e5454" stroke-width="0.9"/>
<line x1="295.3" y1="770.5" x2="300.3" y2="770.5" stroke="#5e5454" stroke-width="0.9"/>
<circle cx="297.8" cy="758.3" r="2.4" fill="#2c1d1c"/>
<text x="113" y="751.6" font-size="12.8" text-anchor="middle" fill="#2a2425" transform="rotate(-90 113 751.6)">Mouse weight (g)</text>
<text x="228" y="845.3" font-size="12.8" text-anchor="middle" fill="#2a2425">Days on diet</text>
</g>
<text id="caption" y="884.2" font-size="13.6" fill="#a34a3b" style="stroke:#a34a3b;stroke-width:0.4px"><tspan x="0.1" textLength="36.3" lengthAdjust="spacingAndGlyphs">Figure</tspan> <tspan x="39.4" textLength="12.4" lengthAdjust="spacingAndGlyphs">2.</tspan> <tspan x="57.2" textLength="76.7" lengthAdjust="spacingAndGlyphs">Physiological</tspan> <tspan x="137.5" textLength="35.6" lengthAdjust="spacingAndGlyphs">Serine</tspan> <tspan x="177.2" textLength="89.2" lengthAdjust="spacingAndGlyphs">Concentrations</tspan> <tspan x="269.6" textLength="55.5" lengthAdjust="spacingAndGlyphs">Approach</tspan> <tspan x="329.2" textLength="7.6" lengthAdjust="spacingAndGlyphs">a</tspan> <tspan x="340.5" textLength="36.3" lengthAdjust="spacingAndGlyphs">Range</tspan> <tspan x="381" textLength="24.1" lengthAdjust="spacingAndGlyphs">that</tspan> <tspan x="408.6" textLength="9.4" lengthAdjust="spacingAndGlyphs">Is</tspan> <tspan x="420.6" textLength="48.3" lengthAdjust="spacingAndGlyphs">Limiting</tspan> <tspan x="472.5" textLength="15.3" lengthAdjust="spacingAndGlyphs">for</tspan> <tspan x="491.7" textLength="21.2" lengthAdjust="spacingAndGlyphs">Cell</tspan> <tspan x="517.2" textLength="72.2" lengthAdjust="spacingAndGlyphs">Proliferation</tspan> <tspan x="594.2" textLength="10" lengthAdjust="spacingAndGlyphs">in</tspan> <tspan x="608" textLength="43" lengthAdjust="spacingAndGlyphs">Culture</tspan></text>
</svg>
</body>
</html>
